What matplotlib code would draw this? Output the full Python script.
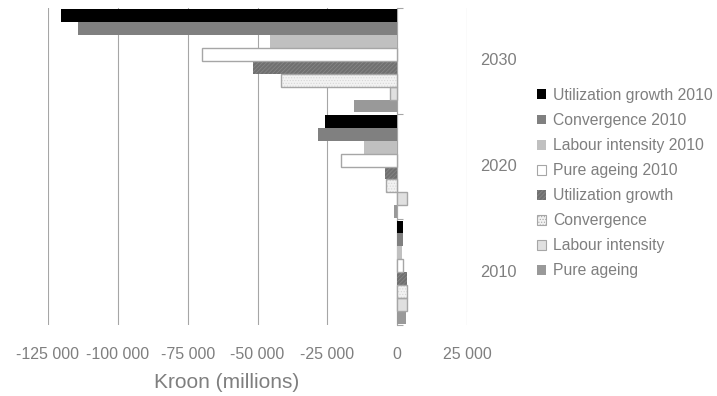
import numpy as np
import matplotlib.pyplot as plt
from matplotlib.patches import Patch
from matplotlib.ticker import FuncFormatter, FixedLocator
from matplotlib.transforms import blended_transform_factory

plt.rcParams['font.family'] = ['Liberation Sans', 'DejaVu Sans']
plt.rcParams['hatch.linewidth'] = 0.5

years = ["2010", "2020", "2030"]
series = ["Utilization growth 2010", "Convergence 2010", "Labour intensity 2010",
          "Pure ageing 2010", "Utilization growth", "Convergence",
          "Labour intensity", "Pure ageing"]

util_2010 = [2000, -25700, -120200]
conv_2010 = [2000, -28300, -114100]
labour_2010 = [1800, -12000, -45400]
ageing_2010 = [2000, -20100, -69900]
util = [3400, -4300, -51500]
conv = [3400, -4100, -41700]
labour = [3500, 3500, -2500]
ageing = [3100, -1100, -15400]

values = [util_2010, conv_2010, labour_2010, ageing_2010, util, conv, labour, ageing]

# face, edge, hatch, hatch colour
styles = [
    ("#000000", None, None, None),
    ("#808080", None, None, None),
    ("#c0c0c0", None, None, None),
    ("#ffffff", "#a6a6a6", None, None),
    ("#707070", None, "////////", "#8a8a8a"),
    ("#f2f2f2", "#a6a6a6", "......", "#d6d6d6"),
    ("#e0e0e0", "#a6a6a6", None, None),
    ("#999999", None, None, None),
]

text_col = "#7f7f7f"
grid_col = "#a6a6a6"

fig = plt.figure(figsize=(7.17, 3.96), dpi=100)
ax = fig.add_axes([48/717, 1-325/396, 419/717, 317/396])

y = np.arange(len(years))
h = 0.122
handles = []
for i, (vals, (fc, ec, hatch, hc)) in enumerate(zip(values, styles)):
    pos = y + (3.5 - i) * h
    ax.barh(pos, vals, height=h, color=fc, linewidth=0, zorder=3)
    if hatch:
        ax.barh(pos, vals, height=h, fill=False, hatch=hatch, edgecolor=hc, linewidth=0, zorder=3)
    if ec:
        ax.barh(pos, vals, height=h, fill=False, edgecolor=ec, linewidth=1, zorder=4)
    handles.append(Patch(facecolor=fc, edgecolor=ec if ec else (hc if hatch else fc),
                         hatch=hatch, linewidth=0.8 if ec else 0, label=series[i]))

ax.set_xlim(-125000, 25000)
ax.set_ylim(-0.5, 2.5)
ax.xaxis.set_major_locator(FixedLocator(np.arange(-125000, 25001, 25000)))
ax.xaxis.set_major_formatter(FuncFormatter(lambda v, p: f"{int(v):,}".replace(",", " ")))
ax.tick_params(axis='x', length=0, pad=16, labelsize=11.5, labelcolor=text_col)
ax.grid(axis='x', color=grid_col, linewidth=0.8, zorder=0)

for s in ["top", "right", "bottom"]:
    ax.spines[s].set_visible(False)
ax.spines["left"].set_position(("data", 0))
ax.spines["left"].set_color(grid_col)
ax.spines["left"].set_linewidth(0.8)
ax.set_yticks([-0.5, 0.5, 1.5, 2.5])
ax.set_yticklabels([])
ax.tick_params(axis='y', direction='in', length=4, color=grid_col, width=0.8)

tr = blended_transform_factory(ax.transAxes, ax.transData)
for yy, lab in zip(y, years):
    ax.text(1.031, yy, lab, transform=tr, ha='left', va='center', fontsize=11.8, color=text_col)

fig.text(227/717, 1-382/396, "Kroon (millions)", ha='center', va='center', fontsize=15, color=text_col)

fig.legend(handles=handles, loc='upper left', bbox_to_anchor=(537/717, 1-88/396),
           frameon=False, fontsize=11.3, labelcolor=text_col, borderpad=0, borderaxespad=0,
           handlelength=0.6, handleheight=0.6, handletextpad=0.45, labelspacing=0.64)

fig.savefig("out.png", dpi=100)
